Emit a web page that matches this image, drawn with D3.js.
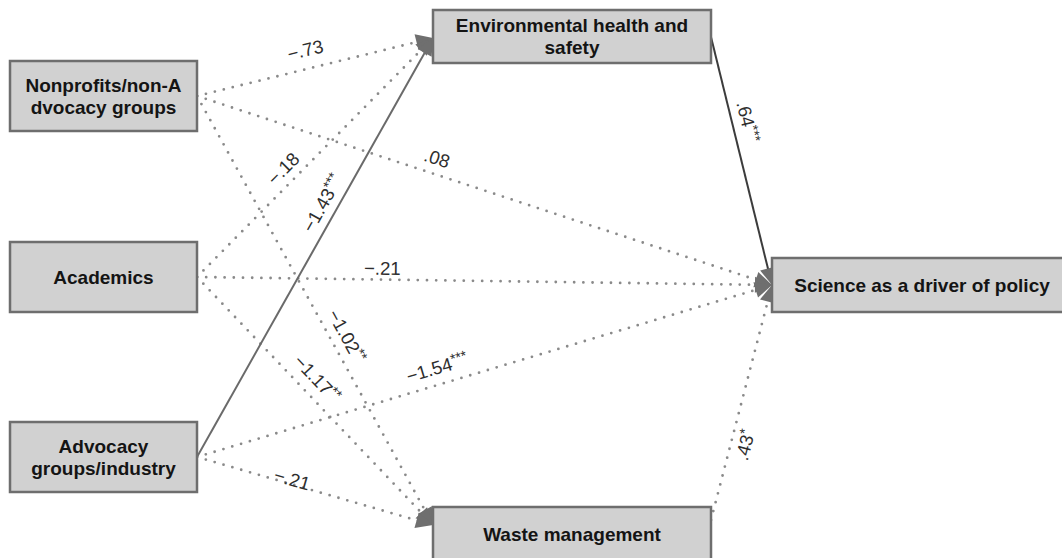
<!DOCTYPE html>
<html>
<head>
<meta charset="utf-8">
<script src="https://cdn.jsdelivr.net/npm/d3@7"></script>
<style>
  html, body { margin: 0; padding: 0; background: #fff; }
  svg { display: block; }
</style>
</head>
<body>
<svg id="chart" width="1062" height="558"></svg>
<script>
// Nodes of the path model (text lines as printed in each box)
const nodeNames = [
  "Nonprofits/non-Advocacy groups",
  "Academics",
  "Advocacy groups/industry",
  "Environmental health and safety",
  "Waste management",
  "Science as a driver of policy"
];
const nodeLines = [
  ["Nonprofits/non-A", "dvocacy groups"],
  ["Academics"],
  ["Advocacy", "groups/industry"],
  ["Environmental health and", "safety"],
  ["Waste management"],
  ["Science as a driver of policy"]
];

// Paths: source node, target node, coefficient, significance stars
const pathFrom  = [0, 0, 0, 1, 1, 1, 2, 2, 2, 3, 4];
const pathTo    = [3, 5, 4, 3, 5, 4, 3, 5, 4, 5, 5];
const pathCoef  = [-0.73, 0.08, -1.02, -0.18, -0.21, -1.17, -1.43, -1.54, -0.21, 0.64, 0.43];
const pathStars = ["", "", "**", "", "", "**", "***", "***", "", "***", "*"];

// ---- layout ----
const svg = d3.select("#chart");

// box geometry per node
const boxes = [
  { x: 10,  y: 61,  w: 187, h: 70 },
  { x: 10,  y: 242, w: 187, h: 70 },
  { x: 10,  y: 422, w: 187, h: 70 },
  { x: 433, y: 10,  w: 278, h: 53 },
  { x: 433, y: 507, w: 278, h: 54 },
  { x: 772, y: 258, w: 300, h: 54 }
];
// text centre per box (the right-hand box runs off the page)
const textCx = [103.5, 103.5, 103.5, 572, 572, 922];
const textCy = [96, 277, 457, 36.5, 534, 285];
// where arrows leave (right edge) and enter (left edge), as y positions
const outY = [96, 277, 457, 37, 520, null];
const inY  = [null, null, null, 38, 525, 285];

// label placement along each path: fraction t and perpendicular offset
const labelT   = [0.478, 0.409, 0.577, 0.41, 0.322, 0.457, 0.588, 0.426, 0.397, 0.357, 0.334];
const labelOff = [19, 16, 15.5, 15, 11.5, 17, 15.5, 17, 5, 15.5, -14];

const solidPaths = new Set(["2-3", "3-5"]);

const fmt = v => (v < 0 ? "\u2212" : "") + d3.format(".2f")(Math.abs(v)).replace(/^0/, "");

const edges = pathFrom.map((f, i) => {
  const t = pathTo[i];
  const p0 = [boxes[f].x + boxes[f].w, outY[f]];
  const p1 = [boxes[t].x, inY[t]];
  const dx = p1[0] - p0[0], dy = p1[1] - p0[1];
  const len = Math.hypot(dx, dy);
  const dir = [dx / len, dy / len];
  const nrm = [dir[1], -dir[0]];
  return {
    i, f, t, p0, p1, dir, nrm, len,
    solid: solidPaths.has(f + "-" + t),
    coef: pathCoef[i], stars: pathStars[i]
  };
});

const line = d3.line();

// paths
const gLines = svg.append("g");
gLines.selectAll("path.edge")
  .data(edges)
  .join("path")
  .attr("class", "edge")
  .attr("d", d => line([d.p0, [d.p1[0] - d.dir[0] * 8, d.p1[1] - d.dir[1] * 8]]))
  .attr("fill", "none")
  .attr("stroke", d => d.solid ? (d.f === 3 ? "#3c3c3c" : "#6a6a6a") : "#8a8a8a")
  .attr("stroke-width", d => d.solid ? 2 : 2.8)
  .attr("stroke-linecap", d => d.solid ? "butt" : "round")
  .attr("stroke-dasharray", d => d.solid ? null : "0 9.2");

// arrowheads
const headLen = 17, headHalf = 8;
gLines.selectAll("path.head")
  .data(edges)
  .join("path")
  .attr("class", "head")
  .attr("d", d => {
    const [x, y] = d.p1;
    const bx = x - d.dir[0] * headLen, by = y - d.dir[1] * headLen;
    return line([[x, y],
      [bx + d.nrm[0] * headHalf, by + d.nrm[1] * headHalf],
      [bx - d.nrm[0] * headHalf, by - d.nrm[1] * headHalf]]) + "Z";
  })
  .attr("fill", "#6f6f6f");

// boxes
const gNodes = svg.append("g")
  .selectAll("g")
  .data(nodeNames.map((n, i) => ({ name: n, i, lines: nodeLines[i], b: boxes[i] })))
  .join("g");

gNodes.append("rect")
  .attr("x", d => d.b.x)
  .attr("y", d => d.b.y)
  .attr("width", d => d.b.w)
  .attr("height", d => d.b.h)
  .attr("fill", "#d1d1d1")
  .attr("stroke", "#6e6e6e")
  .attr("stroke-width", 2.5);

const lineH = 22;
gNodes.append("text")
  .attr("text-anchor", "middle")
  .attr("font-family", "'Liberation Sans', Arial, sans-serif")
  .attr("font-weight", "bold")
  .attr("font-size", 19)
  .attr("fill", "#141414")
  .each(function (d) {
    const n = d.lines.length;
    d3.select(this).selectAll("tspan")
      .data(d.lines)
      .join("tspan")
      .attr("x", textCx[d.i])
      .attr("y", (l, k) => textCy[d.i] + (k - (n - 1) / 2) * lineH)
      .attr("dy", "0.36em")
      .text(l => l);
  });

// coefficient labels
const gLabels = svg.append("g");
gLabels.selectAll("text")
  .data(edges)
  .join("text")
  .attr("font-family", "'Liberation Sans', Arial, sans-serif")
  .attr("font-size", 18.5)
  .attr("fill", "#2e2e2e")
  .attr("text-anchor", "middle")
  .attr("transform", d => {
    const t = labelT[d.i], o = labelOff[d.i];
    const x = d.p0[0] + d.dir[0] * d.len * t + d.nrm[0] * o;
    const y = d.p0[1] + d.dir[1] * d.len * t + d.nrm[1] * o;
    const ang = Math.atan2(d.dir[1], d.dir[0]) * 180 / Math.PI;
    return `translate(${x},${y}) rotate(${ang})`;
  })
  .each(function (d) {
    const el = d3.select(this);
    el.append("tspan").attr("dy", "0.36em").text(fmt(d.coef));
    if (d.stars) {
      el.append("tspan")
        .attr("font-size", 14)
        .attr("dy", "-0.4em")
        .text(d.stars);
    }
  });
</script>
</body>
</html>
